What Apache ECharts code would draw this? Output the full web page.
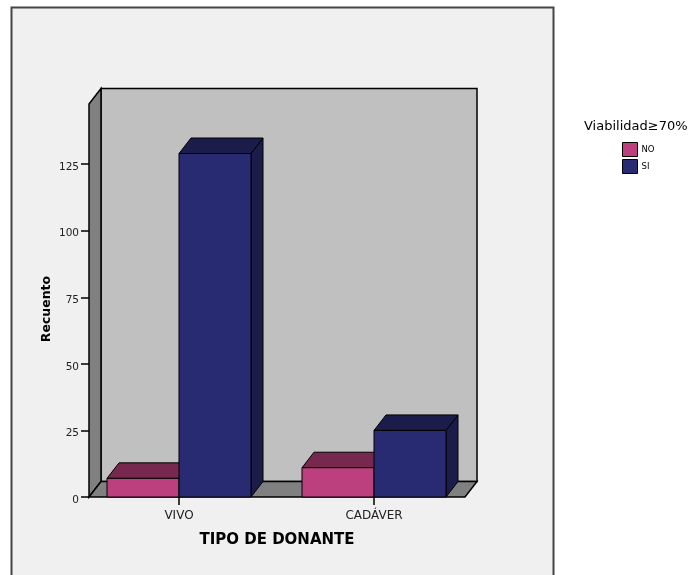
<!DOCTYPE html>
<html>
<head>
<meta charset="utf-8">
<script src="https://cdn.jsdelivr.net/npm/echarts@6/dist/echarts.min.js"></script>
<style>html,body{margin:0;padding:0;background:#fff;}#c{width:697px;height:575px;}</style>
</head>
<body>
<div id="c"></div>
<script>
const categories = ['VIVO', 'CADÁVER'];
const seriesNames = ['NO', 'SI'];
const noValues = [7, 11];
const siValues = [129, 25];
const yTickValues = [0, 25, 50, 75, 100, 125];
const legendTitle = 'Viabilidad≥70%';
const xTitle = 'TIPO DE DONANTE';
const yTitle = 'Recuento';

const DX = 12, DY = 15.5, BAR_W = 72;
const FONT = '"DejaVu Sans", sans-serif';
const colors = { NO: ['#bd407e', '#76284f'], SI: ['#282a72', '#1c1c4b'] };

function wallsRender(params, api) {
  const cs = params.coordSys;
  const FL = cs.x + 7.5, FR = cs.x + cs.width - 6.5;
  const T = cs.y, B = cs.y + cs.height;
  const st = { stroke: '#000', lineWidth: 1.5 };
  return {
    type: 'group',
    children: [
      { type: 'rect', shape: { x: FL + DX, y: T - DY, width: FR - FL, height: B - T }, style: Object.assign({ fill: '#c0c0c0' }, st) },
      { type: 'polygon', shape: { points: [[FL, T], [FL + DX, T - DY], [FL + DX, B - DY], [FL, B]] }, style: Object.assign({ fill: '#808080' }, st) },
      { type: 'polygon', shape: { points: [[FL, B], [FL + DX, B - DY], [FR + DX, B - DY], [FR, B]] }, style: Object.assign({ fill: '#808080' }, st) }
    ]
  };
}

function barRender(side, name) {
  return function (params, api) {
    const cat = api.value(0), val = api.value(1);
    const top = api.coord([cat, val]);
    const base = api.coord([cat, 0]);
    const x0 = side === 0 ? top[0] - BAR_W : top[0];
    const x1 = x0 + BAR_W;
    const yT = top[1], yB = base[1];
    const front = colors[name][0], dark = colors[name][1];
    const st = { stroke: '#000', lineWidth: 1 };
    return {
      type: 'group',
      children: [
        { type: 'polygon', shape: { points: [[x1, yB], [x1 + DX, yB - DY], [x1 + DX, yT - DY], [x1, yT]] }, style: Object.assign({ fill: dark }, st) },
        { type: 'polygon', shape: { points: [[x0, yT], [x0 + DX, yT - DY], [x1 + DX, yT - DY], [x1, yT]] }, style: Object.assign({ fill: dark }, st) },
        { type: 'rect', shape: { x: x0, y: yT, width: BAR_W, height: yB - yT }, style: Object.assign({ fill: front }, st) }
      ]
    };
  };
}

const chart = echarts.init(document.getElementById('c'), null, { renderer: 'canvas' });
chart.setOption({
  backgroundColor: '#ffffff',
  animation: false,
  graphic: [
    { type: 'rect', z: -10, shape: { x: 11.5, y: 7.5, width: 542, height: 600 }, style: { fill: '#f0f0f0', stroke: '#444', lineWidth: 2 } },
    { type: 'text', x: 277, y: 540.5, style: { text: xTitle, font: 'bold 15px ' + FONT, fill: '#000', textAlign: 'center', textVerticalAlign: 'middle' } },
    { type: 'text', x: 47, y: 309, rotation: Math.PI / 2, style: { text: yTitle, font: 'bold 12.5px ' + FONT, fill: '#000', textAlign: 'center', textVerticalAlign: 'middle' } },
    { type: 'text', x: 584, y: 127, style: { text: legendTitle, font: '13px ' + FONT, fill: '#000', textAlign: 'left', textVerticalAlign: 'middle' } }
  ],
  legend: {
    data: seriesNames,
    orient: 'vertical',
    left: 622, top: 142,
    padding: 0,
    itemWidth: 15, itemHeight: 14, itemGap: 2,
    icon: 'rect',
    itemStyle: { borderColor: '#000', borderWidth: 1 },
    textStyle: { fontFamily: FONT, fontSize: 8.5, color: '#000', padding: [0, 0, 0, -1] }
  },
  grid: { left: 81.5, top: 104, width: 390, height: 393 },
  xAxis: {
    type: 'category',
    data: categories,
    axisLine: { show: false },
    axisTick: { show: true, alignWithLabel: true, length: 8, lineStyle: { color: '#000', width: 1.5 } },
    axisLabel: { margin: 13, fontFamily: FONT, fontSize: 12, color: '#222' },
    splitLine: { show: false }
  },
  yAxis: {
    type: 'value',
    min: 0, max: 147.6, interval: 25,
    offset: -7.5,
    axisLine: { show: false },
    axisTick: { show: true, length: 8, customValues: yTickValues, lineStyle: { color: '#000', width: 1.5 } },
    axisLabel: {
      margin: 10, customValues: yTickValues,
      formatter: function (v) { return '{v|' + v + '}'; },
      rich: { v: { fontFamily: FONT, fontSize: 10.5, color: '#222', padding: [6, 0, 0, 0] } }
    },
    splitLine: { show: false }
  },
  series: [
    { type: 'custom', name: 'walls', silent: true, clip: false, renderItem: wallsRender, data: [[0, 0]], encode: { x: 0, y: 1 } },
    { type: 'custom', name: seriesNames[0], clip: false, renderItem: barRender(0, 'NO'), itemStyle: { color: colors.NO[0] }, data: categories.map((c, i) => [i, noValues[i]]), encode: { x: 0, y: 1 } },
    { type: 'custom', name: seriesNames[1], clip: false, renderItem: barRender(1, 'SI'), itemStyle: { color: colors.SI[0] }, data: categories.map((c, i) => [i, siValues[i]]), encode: { x: 0, y: 1 } }
  ]
});
</script>
</body>
</html>
